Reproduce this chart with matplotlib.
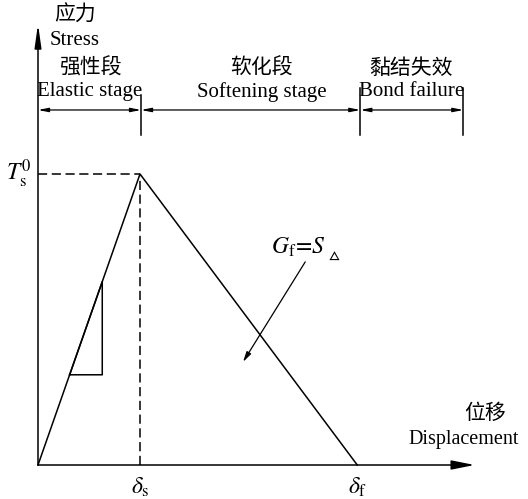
import matplotlib
matplotlib.use("Agg")
import matplotlib.pyplot as plt

plt.rcParams['mathtext.fontset'] = 'stix'

# ---- data (normalized units: delta_s = 1, T_s0 = 1) ----
curve_x = [0.0, 1.0, 3.13]
curve_y = [0.0, 1.0, 0.0]
tri_x = [0.31, 0.63, 0.63]
tri_y = [0.31, 0.31, 0.63]
stage_bounds = [0.0, 1.01, 3.16, 4.17]
stage_cn = ["强性段", "软化段", "黏结失效"]
stage_en = ["Elastic stage", "Softening stage", "Bond failure"]
stage_label_x = [0.51, 2.19, 3.66]
delta_s = 1.0
delta_f = 3.13
T_s = 1.0

SER = ['Liberation Serif', 'DejaVu Serif']
CJK = ['Noto Sans CJK SC', 'DejaVu Sans']

fig = plt.figure(figsize=(5.28, 4.99), dpi=100)
ax = fig.add_axes([0, 0, 1, 1])
ax.set_xlim(-38 / 102, 490 / 102)
ax.set_ylim(-34 / 291, 465 / 291)
ax.axis('off')

lw = 1.1
# axes arrows
ax.annotate('', xy=(4.28, 0), xytext=(0, 0),
            arrowprops=dict(arrowstyle='-|>,head_length=1.4,head_width=0.28', color='black', lw=lw,
                            shrinkA=0, shrinkB=0))
ax.annotate('', xy=(0, 1.515), xytext=(0, 0),
            arrowprops=dict(arrowstyle='-|>,head_length=1.4,head_width=0.2', color='black', lw=lw,
                            shrinkA=0, shrinkB=0))

# curve
ax.plot(curve_x, curve_y, color='black', lw=lw)
ax.plot(tri_x + [tri_x[0]], tri_y + [tri_y[0]], color='black', lw=lw)

# dashed guide lines
ax.plot([0, delta_s], [T_s, T_s], color='black', lw=lw, ls=(0, (6, 3)))
ax.plot([delta_s, delta_s], [0, T_s], color='black', lw=lw, ls=(0, (6, 3)))

# stage brackets
yb = 1.22
tick_tops = [None, 1.271, 1.296, 1.296]
for i, xb in enumerate(stage_bounds):
    if i > 0:
        ax.plot([xb, xb], [1.134, tick_tops[i]], color='black', lw=lw)
for i in range(3):
    ax.annotate('', xy=(stage_bounds[i], yb), xytext=(stage_bounds[i + 1], yb),
                arrowprops=dict(arrowstyle='<|-|>,head_length=0.6,head_width=0.12', color='black', lw=0.9,
                                shrinkA=0, shrinkB=0))
    ax.text(stage_label_x[i], 1.364, stage_cn[i], family=CJK, fontsize=15, ha='center', va='center')
    ax.text(stage_label_x[i], 1.283, stage_en[i], family=SER, fontsize=15, ha='center', va='center')

# axis titles
ax.text(0.363, 1.546, "应力", family=CJK, fontsize=15, ha='center', va='center')
ax.text(0.363, 1.46, "Stress", family=SER, fontsize=15, ha='center', va='center')
ax.text(4.38, 0.179, "位移", family=CJK, fontsize=15, ha='center', va='center')
ax.text(4.17, 0.089, "Displacement", family=SER, fontsize=14.5, ha='center', va='center')

# symbols
ax.text(-0.06, T_s, r"$T^{0}_{\mathrm{s}}$", fontsize=17, ha='right', va='center')
ax.text(delta_s, -0.075, r"$\delta_{\mathrm{s}}$", fontsize=17, ha='center', va='center')
ax.text(delta_f, -0.075, r"$\delta_{\mathrm{f}}$", fontsize=17, ha='center', va='center')
ax.text(2.82, 0.75, r"$G_{\mathrm{f}}\!=\!S$", fontsize=17, ha='right', va='center')
ax.text(2.90, 0.72, r"$\vartriangle$", fontsize=12, ha='center', va='center')
ax.annotate('', xy=(2.01, 0.354), xytext=(2.62, 0.698),
            arrowprops=dict(arrowstyle='-|>,head_length=0.6,head_width=0.15', color='black', lw=0.9,
                            shrinkA=0, shrinkB=0))

fig.savefig('out.png', dpi=100, facecolor='white')
